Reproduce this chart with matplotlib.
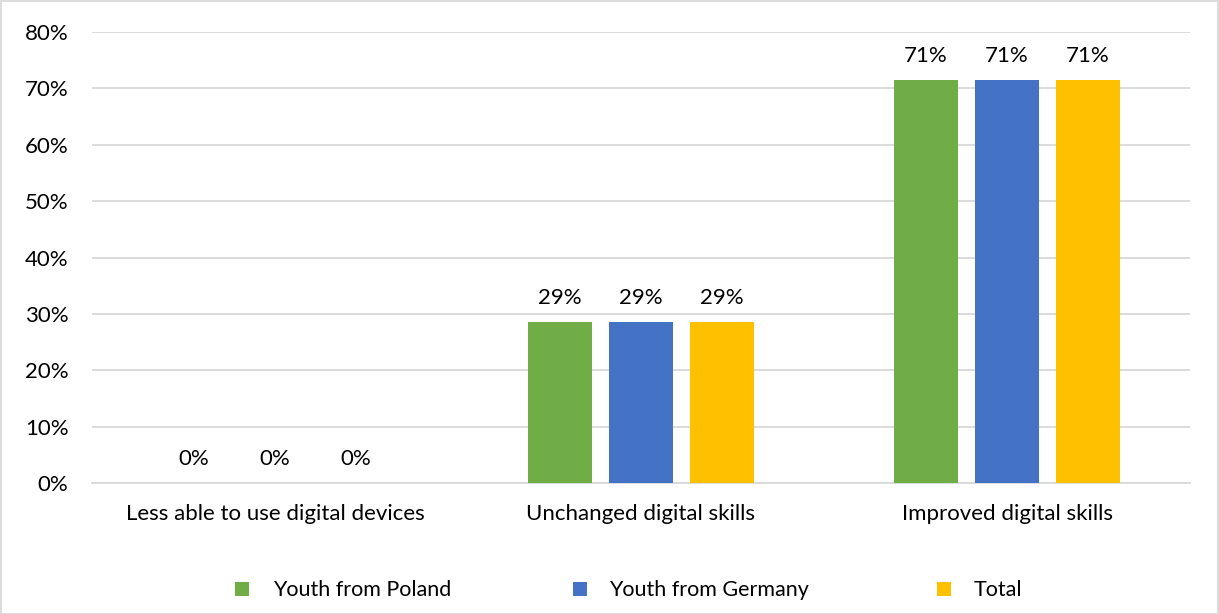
import matplotlib
matplotlib.use("Agg")
import matplotlib.pyplot as plt
import numpy as np
from matplotlib.patches import Rectangle

categories = ["Less able to use digital devices", "Unchanged digital skills", "Improved digital skills"]
series_names = ["Youth from Poland", "Youth from Germany", "Total"]
poland = [0.0, 28.57, 71.43]
germany = [0.0, 28.57, 71.43]
total = [0.0, 28.57, 71.43]
labels = [["0%", "29%", "71%"], ["0%", "29%", "71%"], ["0%", "29%", "71%"]]
colors = ["#70AD47", "#4472C4", "#FFC000"]
yticks = [0, 10, 20, 30, 40, 50, 60, 70, 80]

plt.rcParams['font.family'] = ['Lato', 'DejaVu Sans']
FS = 16

W, H = 1219, 614
fig = plt.figure(figsize=(W/100, H/100), dpi=100)
ax = fig.add_axes([92/W, 1-483/H, (1190-92)/W, (483-32)/H])

x = np.arange(len(categories))
w = 0.175
off = 0.221
for i, (vals, c) in enumerate(zip([poland, germany, total], colors)):
    pos = x + (i-1)*off
    ax.bar(pos, vals, width=w, color=c, zorder=3)
    for p, v, lab in zip(pos, vals, labels[i]):
        ax.text(p, v + 2.55, lab, ha='center', va='bottom', fontsize=FS, color='#000000')

ax.set_xlim(-0.5, 2.5)
ax.set_ylim(0, 80)
ax.set_yticks(yticks)
ax.set_yticklabels([f"{t}%" for t in yticks], fontsize=FS)
ax.set_xticks(x)
ax.set_xticklabels(categories, fontsize=FS)
ax.tick_params(axis='both', length=0)
ax.tick_params(axis='y', pad=17)
ax.tick_params(axis='x', pad=15)
ax.grid(axis='y', color='#D9D9D9', linewidth=1.3, zorder=0)
for s in ['top', 'right', 'left']:
    ax.spines[s].set_visible(False)
ax.spines['bottom'].set_color('#D9D9D9')
ax.spines['bottom'].set_linewidth(1.3)

# legend (manual placement, Excel-like)
marker_cx = [242, 580, 944]
text_x = [273, 609, 974]
ly = 589
ms = 14
for name, c, mx, tx in zip(series_names, colors, marker_cx, text_x):
    fig.add_artist(Rectangle(((mx - ms/2)/W, 1-(ly + ms/2)/H), ms/W, ms/H,
                             transform=fig.transFigure, facecolor=c, edgecolor='none'))
    fig.text(tx/W, 1-(ly+1.5)/H, name, ha='left', va='center', fontsize=15.5, color='#000000')

fig.add_artist(Rectangle((0.5/W, 0.5/H), 1-1.5/W, 1-1.5/H, transform=fig.transFigure,
                         fill=False, edgecolor='#D9D9D9', linewidth=1.3))

fig.savefig("out.png", dpi=100, facecolor='white')
